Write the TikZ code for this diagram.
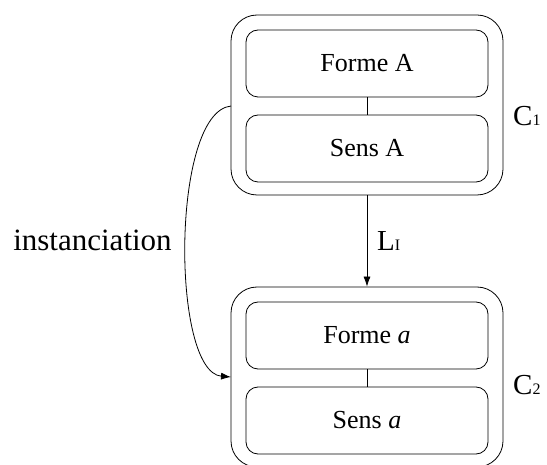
\documentclass[tikz,border=0pt]{standalone}
\usepackage{fontspec}
\setmainfont{Liberation Serif}
\usetikzlibrary{arrows.meta}
\newcommand{\sublbl}[2]{#1{\fontsize{16}{16}\selectfont #2}}
\begin{document}
\begin{tikzpicture}[x=1pt,y=-1pt,
  outerbox/.style={draw,line width=0.8pt,rounded corners=26pt,minimum width=272pt,minimum height=180pt,inner sep=0pt},
  innerbox/.style={draw,line width=0.8pt,rounded corners=12pt,minimum width=242pt,minimum height=67pt,inner sep=0pt,font=\fontsize{26}{30}\selectfont},
  lbl/.style={font=\fontsize{29}{32}\selectfont,inner sep=0pt},
  conn/.style={line width=0.8pt},
  arr/.style={line width=0.8pt,-{Latex[length=10pt,width=7pt]}}]
\useasboundingbox (0,0) rectangle (547,465);
\node[outerbox] (c1) at (367,105) {};
\node[innerbox] (fa) at (367,63.5) {Forme A};
\node[innerbox] (sa) at (367,148.5) {Sens A};
\draw[conn] (fa.south) -- (sa.north);
\node[outerbox] (c2) at (367,377) {};
\node[innerbox] (fb) at (367,335.5) {Forme \textit{a}};
\node[innerbox] (sb) at (367,420.5) {Sens \textit{a}};
\draw[conn] (fb.south) -- (sb.north);
\node[lbl,anchor=west] (l1) at (513,116) {\sublbl{C}{1}};
\node[lbl,anchor=west] (l2) at (513,385) {\sublbl{C}{2}};
\draw[arr] (c1.south) -- (c2.north);
\node[lbl,anchor=west] (li) at (377,241) {\sublbl{L}{I}};
\coordinate (cs) at (231,106);
\coordinate (ce) at (231,377);
\draw[arr] (cs) .. controls (171,112) and (171,372) .. (ce);
\node[font=\fontsize{31}{34}\selectfont,inner sep=0pt] (inst) at (92.5,240) {instanciation};
\end{tikzpicture}
\end{document}
